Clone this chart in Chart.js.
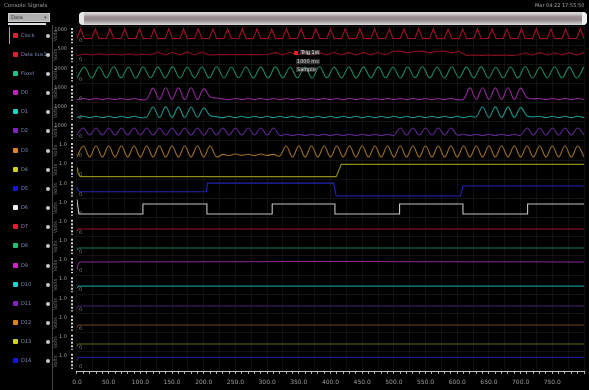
<!DOCTYPE html>
<html><head><meta charset="utf-8">
<script src="https://cdn.jsdelivr.net/npm/chart.js@4/dist/chart.umd.min.js"></script>
<style>
html,body{margin:0;padding:0;background:#000;overflow:hidden;}
#wrap{position:relative;width:589px;height:390px;background:#000;font-family:"DejaVu Sans",sans-serif;}
canvas{position:absolute;left:0;top:0;}
.ov{position:absolute;white-space:nowrap;line-height:1;}
</style></head><body>
<div id="wrap"><canvas id="c" width="589" height="390"></canvas></div>
<script>
// ---------- DATA ----------
const xMin = 0, xMax = 800;
const channelNames = ['Clock','Data bus1','Fixed','D0','D1','D2','D3','D4','D5','D6','D7','D8','D9','D10','D11','D12','D13','D14'];
const rowMax = [1000,500,2000,1000,1000,1000,1,1,1,1,1,1,1,1,1,1,1,1];
const rowTopLabels = ['1000','500','2000','1000','1000','1000','1.0','1.0','1.0','1.0','1.0','1.0','1.0','1.0','1.0','1.0','1.0','1.0'];

// sampled rows (uniform sample step in time units)
const stepFine = 800/138, stepHalf = 800/69, stepC = 10;
const row0Vals = [
350,850,350,350, 350,840,350,350, 350,860,350,350, 350,850,350,350, 350,850,340,350,
350,840,350,350, 350,860,350,350, 350,850,350,350, 350,850,350,350, 350,840,350,350,
350,850,350,350, 350,860,350,350, 350,850,350,350, 350,840,350,350, 350,850,350,350,
350,860,350,350, 350,850,350,350, 350,840,350,350, 350,850,350,350, 350,860,350,350,
350,850,350,350, 350,840,350,350, 350,850,350,350, 350,860,350,350, 350,850,350,350,
350,840,350,350, 350,850,350,350, 350,860,350,350, 350,850,350,350, 350,840,350,350,
350,850,350,350, 350,860,350,350, 350,850,350,350, 350,840,350,350,
350,850,350];
const row1Vals = [
230,270,245,275,245,270,245,275,245,270,
245,320,245,315,245,325,245,320,245,
250,255,250,255,250,255,250,255,
310,245,315,245,310,245,305,245,315,245,310,245,310,245,315,245,
340,345,300,340,345,300,340,345,300,340,
235,245,235,245,235,245,235,245,
300,245,305,245,300,245,305,245,300];
const row2Vals = [
600,1700,580,1720,600,1740,590,1700,580,1720,600,1710,590,1730,580,1700,600,1720,590,1740,
580,1700,600,1720,590,1710,580,1730,600,1700,590,1720,580,1740,600,1700,590,1720,580,1710,
600,1730,590,1700,580,1720,600,1740,590,1700,580,1720,600,1710,590,1730,580,1700,600,1720,
590,1740,580,1700,600,1720,590,1710,580,1730];
const row3Vals = [
150,220,160,220,160,220,160,220,160,220,160,180,
760,170,780,170,770,160,780,170,720,300,240,
200,160,220,160,220,160,220,160,220,160,220,160,220,160,220,160,220,160,220,160,
220,160,220,160,220,160,220,160,220,160,220,160,220,160,220,160,220,160,180,
770,170,780,170,770,170,780,170,760,260,
200,220,160,220,160,220,160,220,160];
const row4Vals = [
230,290,220,290,220,290,220,290,220,290,220,260,
770,230,780,230,770,230,760,240,720,330,270,
220,290,220,290,220,290,220,290,220,290,220,290,220,290,220,290,220,290,220,290,
220,290,220,290,220,290,220,290,220,290,220,290,220,290,220,290,220,290,220,290,260,
770,230,780,230,770,230,740,320,
260,290,220,290,220,290,220,290,220];
const row5Vals = [
310,680,310,680,310,680,310,680,310,680,310,680,310,680,310,680,
310,680,310,680,310,680,310,680,310,680,310,680,310,680,310,680,
290,350,290,350,290,350,290,350,290,350,290,350,290,350,290,350,290,350,290,
680,310,680,310,680,310,680,310,680,
310,350,290,350,290,350,290,350,290,350,300,
680,310,680,310,680,310,680,310,680,310];
const row6Vals = [
0.17,0.74,0.17,0.74,0.17,0.74,0.17,0.74,0.17,0.74,0.17,0.74,0.17,0.74,0.17,0.74,0.17,0.74,0.17,0.74,0.17,0.74,0.17,
0.30,0.24,0.32,0.25,0.31,0.24,0.32,0.25,0.30,0.22,
0.74,0.17,0.74,0.17,0.74,0.17,0.74,0.17,0.74,0.17,0.74,0.17,0.74,0.17,0.74,0.17,0.74,0.17,0.74,0.17,0.74,0.17,0.74,0.17,
0.74,0.17,0.74,0.17,0.74,0.17,0.74,0.17,0.74,0.17,0.74,0.17,0.74,0.17,0.74,0.17,0.74,0.17,0.74,0.17,0.74,0.17,0.74,0.17];

// level/step rows: times and values
const row7T = [0,2,5,409,417,800];           const row7V = [0.65,0.30,0.14,0.14,0.78,0.78];
const row8T = [0,3,204,206,405,409,605,609,800]; const row8V = [0.60,0.35,0.35,0.80,0.80,0.13,0.13,0.65,0.65];
const row9T = [0,3,104,104,205,205,308,308,407,407,509,509,609,609,711,711,800];
const row9V = [0.95,0.19,0.19,0.71,0.71,0.19,0.19,0.71,0.71,0.19,0.19,0.71,0.71,0.19,0.19,0.71,0.71];
const row10T = [0,2,800]; const row10V = [0.30,0.41,0.41];
const row11T = [0,2,800]; const row11V = [0.30,0.42,0.42];
const row12T = [0,2,5,800]; const row12V = [0.27,0.55,0.69,0.69];
const row13T = [0,2,800]; const row13V = [0.30,0.43,0.43];
const row14T = [0,2,800]; const row14V = [0.28,0.39,0.39];
const row15T = [0,2,800]; const row15V = [0.28,0.40,0.40];
const row16T = [0,2,800]; const row16V = [0.30,0.41,0.41];
const row17T = [0,2,800]; const row17V = [0.55,0.71,0.71];

// ---------- STYLE ----------
const traceColors = ['#a01028','#8c1020','#1a8a5e','#90289a','#1a948a','#5e2690','#9c6c26','#8c8c18','#2424b0','#c4c4c4',
  '#9a1428','#1a7654','#862a8e','#1a8888','#4a2070','#6a4820','#686814','#1c1c8c'];
const swatchColors = ['#e0202c','#e0202c','#22c088','#c022c0','#22d0c8','#8422c0','#e08422','#d0d022','#1414e0','#eeeeee',
  '#e0202c','#22c070','#d022c8','#22d0d0','#8422c0','#e08422','#d0d022','#1414e0'];
const tensions = [0,0,0.4,0.4,0.4,0.4,0.4,0,0,0,0,0,0.4,0,0,0,0,0];

// ---------- BUILD ----------
const grid = (vals, step) => vals.map((v,i) => ({x: i*step, y: v}));
const pts = (ts, vs) => ts.map((t,i) => ({x: t, y: vs[i]}));
const rowData = [
  grid(row0Vals, stepFine), grid(row1Vals, stepHalf), grid(row2Vals, stepHalf),
  grid(row3Vals, stepC), grid(row4Vals, stepC), grid(row5Vals, stepC), grid(row6Vals, stepC),
  pts(row7T,row7V), pts(row8T,row8V), pts(row9T,row9V), pts(row10T,row10V), pts(row11T,row11V),
  pts(row12T,row12V), pts(row13T,row13V), pts(row14T,row14V), pts(row15T,row15V), pts(row16T,row16V), pts(row17T,row17V)
];
const NROWS = rowData.length;
const FONT = 'DejaVu Sans';

const datasets = rowData.map((d,i) => ({
  data: d, borderColor: traceColors[i], borderWidth: 1.1, pointRadius: 0,
  tension: tensions[i], yAxisID: 'r'+i, xAxisID: 'x', fill: false
}));

const scales = {
  x: {
    type: 'linear', position: 'bottom', min: xMin, max: xMax,
    ticks: { stepSize: 5, autoSkip: false, maxRotation: 0, padding: 5, color: '#9c9c9c',
      font: {family: FONT, size: 6},
      callback: v => (v % 50 === 0 && v < xMax) ? v.toFixed(1) : '' },
    grid: { drawOnChartArea: true, tickLength: 3,
      color: c => (c.tick && c.tick.value % 25 === 0) ? 'rgba(255,255,255,0.06)' : 'rgba(0,0,0,0)',
      tickColor: c => (c.tick && c.tick.value % 10 === 0) ? '#b0b0b0' : 'rgba(0,0,0,0)' },
    border: { color: '#c4c4c4', width: 1 },
    afterFit: s => { s.height = 19; }
  }
};
for (let i = 0; i < NROWS; i++) {
  scales['r'+i] = {
    type: 'linear', position: 'left', stack: 'rows', stackWeight: 1, weight: 100 - i,
    min: 0, max: rowMax[i],
    afterBuildTicks: s => { s.ticks = [{value: s.max}]; },
    ticks: { padding: 10, labelOffset: 4, color: '#9c9c9c', font: {family: FONT, size: 5},
      callback: () => rowTopLabels[i] },
    grid: { color: 'rgba(255,255,255,0.07)', drawTicks: false },
    border: { display: false },
    title: { display: true, text: 'Volts', color: '#707070', font: {family: FONT, size: 5}, padding: {top: 1, bottom: 0} },
    afterFit: s => { s.width = 25; }
  };
}

const decor = {
  id: 'decor',
  afterDraw(chart) {
    const ctx = chart.ctx, ca = chart.chartArea;
    ctx.save();
    for (let i = 0; i < NROWS; i++) {
      const s = chart.scales['r'+i];
      ctx.strokeStyle = '#cfcfcf'; ctx.lineWidth = 2; ctx.setLineDash([2,1.5]);
      ctx.beginPath(); ctx.moveTo(ca.left-5, s.top+2); ctx.lineTo(ca.left-5, s.bottom-2); ctx.stroke();
      ctx.setLineDash([]);
      ctx.fillStyle = '#808080'; ctx.font = '5px "DejaVu Sans"';
      ctx.fillText('0', ca.left+2, s.bottom-3);
    }
    ctx.restore();
  }
};

const chart = new Chart(document.getElementById('c'), {
  type: 'line',
  data: { datasets },
  options: {
    responsive: false, animation: false, devicePixelRatio: 1,
    layout: { padding: { left: 52, top: 26, right: 3, bottom: 0 } },
    plugins: { legend: {display: false}, tooltip: {enabled: false}, title: {display: false} },
    scales
  },
  plugins: [decor]
});

// ---------- OVERLAY (panel, header) ----------
const wrap = document.getElementById('wrap');
function addDiv(style, text) {
  const d = document.createElement('div'); d.className = 'ov';
  Object.assign(d.style, style); if (text) d.textContent = text; wrap.appendChild(d); return d;
}
addDiv({left:'4px', top:'3px', fontSize:'5.5px', color:'#9a9a9a'}, 'Console Signals');
addDiv({left:'8px', top:'13px', width:'42px', height:'9px', background:'#b0b0b0', border:'1px solid #cccccc', boxSizing:'border-box', fontSize:'5px', color:'#303030', paddingLeft:'2px', paddingTop:'1px'}, 'Data');
addDiv({left:'44px', top:'15px', fontSize:'5px', color:'#505050'}, '▾');
addDiv({left:'8px', top:'23px', width:'38px', height:'2px', background:'#e0e0e0'});
addDiv({left:'52px', top:'25px', width:'1px', height:'365px', background:'#444444'});
addDiv({left:'535px', top:'3px', fontSize:'5px', color:'#a8a8a8'}, 'Mar 04 22 17:55:50');
addDiv({left:'79px', top:'12px', width:'508px', height:'13px', borderRadius:'4px', boxSizing:'border-box',
  border:'1px solid #d4d4d4', background:'linear-gradient(#dcdcdc, #9c9093 35%, #968b8e 65%, #c8c8c8)'});
addDiv({left:'79px', top:'12px', width:'5px', height:'13px', borderRadius:'4px 0 0 4px', background:'#e8e8e8'});
addDiv({left:'582px', top:'12px', width:'5px', height:'13px', borderRadius:'0 4px 4px 0', background:'#f0f0f0'});

for (let i = 0; i < NROWS; i++) {
  const s = chart.scales['r'+i];
  const cy = (s.top + s.bottom) / 2;
  addDiv({left:'13px', top:(cy-3)+'px', width:'5px', height:'5px', borderRadius:'1px', background: swatchColors[i]});
  addDiv({left:'21px', top:(cy-3)+'px', fontSize:'5px', color:'#7d8cb8'}, channelNames[i]);
  addDiv({left:'46px', top:(cy-2)+'px', width:'4px', height:'4px', borderRadius:'50%', background:'#c8c8c8'});
}
{ const s0 = chart.scales['r0'];
  addDiv({left:'9px', top:(s0.top+1)+'px', width:'1px', height:(s0.bottom-s0.top-2)+'px', background:'#c0a830'}); }

// cursor readout box
addDiv({left:'294px', top:'51px', width:'4px', height:'4px', background:'#e02020'});
addDiv({left:'300px', top:'50px', fontSize:'5px', color:'#eeeeee', background:'rgba(90,90,90,0.55)', padding:'0 1px'}, 'Trig 1st');
addDiv({left:'296px', top:'59px', fontSize:'5px', color:'#dddddd', background:'rgba(90,90,90,0.55)', padding:'0 1px'}, '1000 ms');
addDiv({left:'296px', top:'67px', fontSize:'5px', color:'#dddddd', background:'rgba(90,90,90,0.55)', padding:'0 1px'}, 'Sample');
</script>
</body></html>
